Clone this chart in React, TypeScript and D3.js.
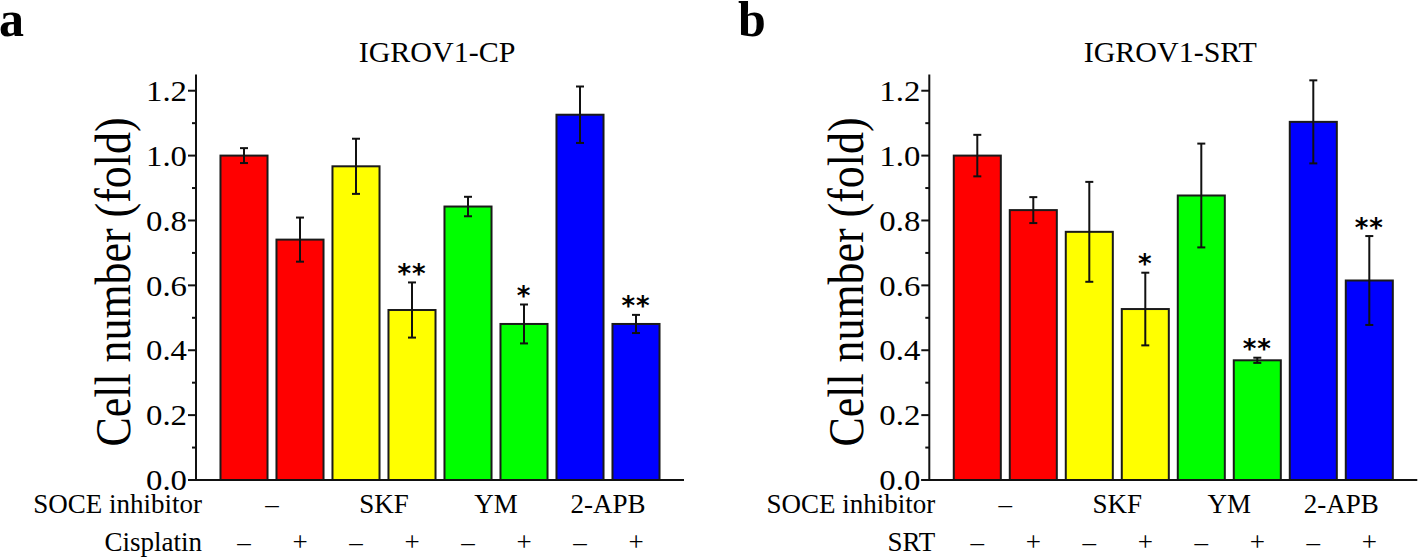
import * as d3 from "d3";

// IGROV1-CP panel (cisplatin)
const cpMeans = [1.0, 0.741, 0.967, 0.524, 0.843, 0.481, 1.126, 0.481];
const cpErrors = [0.023, 0.068, 0.085, 0.085, 0.03, 0.06, 0.087, 0.028];
const cpStars = ["", "", "", "**", "", "*", "", "**"];

// IGROV1-SRT panel
const srtMeans = [1.0, 0.832, 0.765, 0.527, 0.877, 0.369, 1.104, 0.615];
const srtErrors = [0.064, 0.04, 0.154, 0.112, 0.16, 0.008, 0.128, 0.137];
const srtStars = ["", "", "", "*", "", "**", "", "**"];

const inhibitors = ["\u2013", "SKF", "YM", "2-APB"];
const signs = ["\u2013", "+", "\u2013", "+", "\u2013", "+", "\u2013", "+"];
const yTicks = [0, 0.2, 0.4, 0.6, 0.8, 1.0, 1.2];
const yMinor = [0.1, 0.3, 0.5, 0.7, 0.9, 1.1];

const colors = ["#ff0000", "#ff0000", "#ffff00", "#ffff00", "#00ff00", "#00ff00", "#0000ff", "#0000ff"];
const serif = "'Liberation Serif', 'Times New Roman', serif";

type PanelProps = {
  ax: number;
  letter: string;
  title: string;
  drug: string;
  means: number[];
  errors: number[];
  stars: string[];
};

function Panel({ ax, letter, title, drug, means, errors, stars }: PanelProps) {
  const y = d3.scaleLinear().domain([0, 1.25]).range([480, 74.5]);
  const x = d3
    .scaleBand<number>()
    .domain(d3.range(means.length))
    .range([ax + 20, ax + 468])
    .paddingInner(0.16)
    .paddingOuter(0.08);
  const bw = x.bandwidth();
  const cx = (i: number) => (x(i) as number) + bw / 2;

  return (
    <g>
      <text x={letter === "a" ? -1 : 738} y={36} fontFamily={serif} fontWeight="bold" fontSize={50}>
        {letter}
      </text>
      <text x={ax + 241} y={61.5} textAnchor="middle" fontFamily={serif} fontSize={30}>
        {title}
      </text>
      <text
        transform={`translate(${ax - 66},282) rotate(-90)`}
        textAnchor="middle"
        fontFamily={serif}
        fontSize={50}
        textLength={329}
        lengthAdjust="spacingAndGlyphs"
      >
        Cell number (fold)
      </text>

      {means.map((m, i) => (
        <rect
          key={"b" + i}
          x={x(i)}
          y={y(m)}
          width={bw}
          height={y(0) - y(m)}
          fill={colors[i]}
          stroke="#1a1a1a"
          strokeWidth={2}
        />
      ))}

      {means.map((m, i) => {
        const hi = y(m + errors[i]);
        const lo = y(m - errors[i]);
        return (
          <g key={"e" + i} stroke="#111" strokeWidth={2}>
            <line x1={cx(i)} x2={cx(i)} y1={hi} y2={lo} />
            <line x1={cx(i) - 4} x2={cx(i) + 4} y1={hi} y2={hi} />
            <line x1={cx(i) - 4} x2={cx(i) + 4} y1={lo} y2={lo} />
          </g>
        );
      })}

      {stars.map((s, i) =>
        s ? (
          <text
            key={"s" + i}
            x={cx(i)}
            y={y(means[i] + errors[i]) + 0.5}
            textAnchor="middle"
            fontFamily="'DejaVu Sans', sans-serif"
            fontWeight="bold"
            fontSize={26}
            letterSpacing={1}
          >
            {s}
          </text>
        ) : null
      )}

      {/* y axis */}
      <g stroke="#111" strokeWidth={2}>
        <line x1={ax} x2={ax} y1={y(0)} y2={y(1.25)} />
        {yTicks.map((t) => (
          <line key={"t" + t} x1={ax - 8} x2={ax} y1={y(t)} y2={y(t)} />
        ))}
        {yMinor.map((t) => (
          <line key={"m" + t} x1={ax - 4} x2={ax} y1={y(t)} y2={y(t)} />
        ))}
        <line x1={ax - 8} x2={ax + 488} y1={y(0)} y2={y(0)} />
      </g>
      {yTicks.map((t) => (
        <text
          key={"l" + t}
          x={ax - 9}
          y={y(t)}
          dy="0.35em"
          textAnchor="end"
          fontFamily={serif}
          fontSize={29}
          textLength={41}
          lengthAdjust="spacingAndGlyphs"
        >
          {d3.format(".1f")(t)}
        </text>
      ))}

      {/* treatment rows */}
      <text x={ax + 6} y={513} textAnchor="end" fontFamily={serif} fontSize={27}>
        SOCE inhibitor
      </text>
      <text x={ax + 6} y={551} textAnchor="end" fontFamily={serif} fontSize={27}>
        {drug}
      </text>
      {inhibitors.map((lab, g) => (
        <text
          key={"i" + g}
          x={(cx(2 * g) + cx(2 * g + 1)) / 2}
          y={513}
          textAnchor="middle"
          fontFamily={serif}
          fontSize={27}
        >
          {lab}
        </text>
      ))}
      {signs.map((s, i) => (
        <text key={"g" + i} x={cx(i)} y={551} textAnchor="middle" fontFamily={serif} fontSize={27}>
          {s}
        </text>
      ))}
    </g>
  );
}

export default function App() {
  return (
    <div>
      <style>{`body{margin:0}`}</style>
      <svg width={1418} height={559} style={{ display: "block", background: "#fff" }}>
        <Panel ax={196} letter="a" title="IGROV1-CP" drug="Cisplatin" means={cpMeans} errors={cpErrors} stars={cpStars} />
        <Panel ax={929.3} letter="b" title="IGROV1-SRT" drug="SRT" means={srtMeans} errors={srtErrors} stars={srtStars} />
      </svg>
    </div>
  );
}
